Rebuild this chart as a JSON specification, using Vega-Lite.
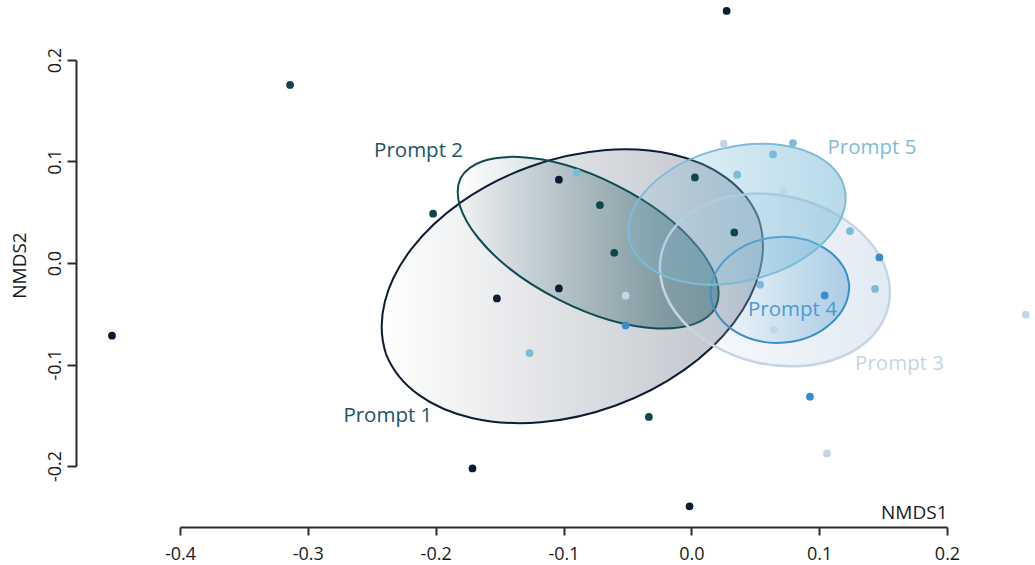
{
  "$schema": "https://vega.github.io/schema/vega-lite/v6.json",
  "width": 767,
  "height": 406,
  "autosize": {"type": "none"},
  "padding": {"left": 180, "top": 60, "right": 88, "bottom": 99},
  "background": "white",
  "config": {"view": {"stroke": null}, "font": "Open Sans"},
  "datasets": {
    "pts": [
      {"prompt": "Prompt 1", "x": -0.4532, "y": -0.0716},
      {"prompt": "Prompt 1", "x": 0.0276, "y": 0.2483},
      {"prompt": "Prompt 1", "x": -0.1712, "y": -0.2024},
      {"prompt": "Prompt 1", "x": -0.1521, "y": -0.0349},
      {"prompt": "Prompt 1", "x": -0.1036, "y": 0.0821},
      {"prompt": "Prompt 1", "x": -0.1036, "y": -0.025},
      {"prompt": "Prompt 1", "x": -0.0014, "y": -0.2398},
      {"prompt": "Prompt 2", "x": -0.3139, "y": 0.1754},
      {"prompt": "Prompt 2", "x": -0.202, "y": 0.0486},
      {"prompt": "Prompt 2", "x": -0.0715, "y": 0.0571},
      {"prompt": "Prompt 2", "x": -0.0603, "y": 0.0101},
      {"prompt": "Prompt 2", "x": 0.0028, "y": 0.0843},
      {"prompt": "Prompt 2", "x": 0.0336, "y": 0.0301},
      {"prompt": "Prompt 2", "x": -0.0332, "y": -0.1517},
      {"prompt": "Prompt 3", "x": 0.0253, "y": 0.1175},
      {"prompt": "Prompt 3", "x": 0.0722, "y": 0.0712},
      {"prompt": "Prompt 3", "x": -0.0514, "y": -0.0322},
      {"prompt": "Prompt 3", "x": 0.0644, "y": -0.066},
      {"prompt": "Prompt 3", "x": 0.1061, "y": -0.1876},
      {"prompt": "Prompt 3", "x": 0.2616, "y": -0.0509},
      {"prompt": "Prompt 3", "x": 0.1168, "y": 0.0597},
      {"prompt": "Prompt 4", "x": -0.0514, "y": -0.0615},
      {"prompt": "Prompt 4", "x": 0.1043, "y": -0.0319},
      {"prompt": "Prompt 4", "x": 0.1471, "y": 0.0055},
      {"prompt": "Prompt 4", "x": 0.0928, "y": -0.1317},
      {"prompt": "Prompt 5", "x": -0.0895, "y": 0.089},
      {"prompt": "Prompt 5", "x": 0.0359, "y": 0.087},
      {"prompt": "Prompt 5", "x": 0.0639, "y": 0.107},
      {"prompt": "Prompt 5", "x": 0.0795, "y": 0.1182},
      {"prompt": "Prompt 5", "x": 0.1241, "y": 0.0315},
      {"prompt": "Prompt 5", "x": -0.1265, "y": -0.0887},
      {"prompt": "Prompt 5", "x": 0.1437, "y": -0.0256},
      {"prompt": "Prompt 5", "x": 0.0539, "y": -0.0214}
    ],
    "centers": [
      {"prompt": "Prompt 1", "x": -0.0931, "y": -0.0229},
      {"prompt": "Prompt 2", "x": -0.0807, "y": 0.02},
      {"prompt": "Prompt 3", "x": 0.0654, "y": -0.0167},
      {"prompt": "Prompt 4", "x": 0.0693, "y": -0.0265},
      {"prompt": "Prompt 5", "x": 0.0357, "y": 0.0481}
    ],
    "labels": [
      {"prompt": "Prompt 1", "x": -0.2374, "y": -0.157},
      {"prompt": "Prompt 2", "x": -0.2134, "y": 0.1044},
      {"prompt": "Prompt 3", "x": 0.1629, "y": -0.1058},
      {"prompt": "Prompt 4", "x": 0.0791, "y": -0.0519},
      {"prompt": "Prompt 5", "x": 0.1413, "y": 0.1077}
    ]
  },
  "encoding": {
    "x": {
      "field": "x",
      "type": "quantitative",
      "scale": {"domain": [-0.4, 0.2], "nice": false, "zero": false},
      "axis": {
        "values": [-0.4, -0.3, -0.2, -0.1, 0, 0.1, 0.2],
        "labelExpr": "(datum.value < -0.00001 ? '-' : '') + format(abs(datum.value), '.1f')",
        "offset": 61,
        "grid": false,
        "domainColor": "#2b2b2b",
        "domainWidth": 2,
        "tickColor": "#2b2b2b",
        "tickWidth": 2,
        "tickSize": 8,
        "labelFont": "Open Sans",
        "labelFontSize": 18,
        "labelColor": "#1a1a1a",
        "labelPadding": 10,
        "labelBaseline": "top",
        "labelFlush": false,
        "labelOverlap": false,
        "title": "NMDS1",
        "titleFont": "Open Sans",
        "titleFontSize": 19,
        "titleFontWeight": "normal",
        "titleColor": "#1a1a1a",
        "titleX": 767,
        "titleY": -9,
        "titleAlign": "right",
        "titleBaseline": "alphabetic"
      }
    },
    "y": {
      "field": "y",
      "type": "quantitative",
      "scale": {"domain": [-0.2, 0.2], "nice": false, "zero": false},
      "axis": {
        "values": [-0.2, -0.1, 0, 0.1, 0.2],
        "labelExpr": "(datum.value < -0.00001 ? '-' : '') + format(abs(datum.value), '.1f')",
        "offset": 104,
        "grid": false,
        "domainColor": "#2b2b2b",
        "domainWidth": 2,
        "tickColor": "#2b2b2b",
        "tickWidth": 2,
        "tickSize": 9,
        "labelFont": "Open Sans",
        "labelFontSize": 18,
        "labelColor": "#1a1a1a",
        "labelAngle": 270,
        "labelAlign": "center",
        "labelBaseline": "alphabetic",
        "labelPadding": 7,
        "labelFlush": false,
        "labelOverlap": false,
        "title": "NMDS2",
        "titleFont": "Open Sans",
        "titleFontSize": 19,
        "titleFontWeight": "normal",
        "titleColor": "#1a1a1a",
        "titleAngle": 270,
        "titleX": -51,
        "titleY": 205,
        "titleAlign": "center",
        "titleBaseline": "alphabetic"
      }
    }
  },
  "layer": [
    {
      "data": {"name": "centers"},
      "transform": [{"filter": "datum.prompt === 'Prompt 1'"}],
      "mark": {
        "type": "point",
        "shape": "M -186.3 67.8 A 198.3 129.7 -20 0 1 186.3 -67.8 A 198.3 129.7 -20 0 1 -186.3 67.8 Z",
        "size": 4,
        "filled": true,
        "opacity": 1,
        "fill": {"gradient": "linear", "x1": 0, "y1": 0, "x2": 1, "y2": 0, "stops": [{"offset": 0, "color": "rgba(11,28,54,0.0)"}, {"offset": 1, "color": "rgba(11,28,54,0.28)"}]},
        "stroke": "#0b1c36",
        "strokeWidth": 2
      }
    },
    {
      "data": {"name": "centers"},
      "transform": [{"filter": "datum.prompt === 'Prompt 2'"}],
      "mark": {
        "type": "point",
        "shape": "M -127.6 -64.5 A 143 65.3 26.8 0 1 127.6 64.5 A 143 65.3 26.8 0 1 -127.6 -64.5 Z",
        "size": 4,
        "filled": true,
        "opacity": 1,
        "fill": {"gradient": "linear", "x1": 0, "y1": 0, "x2": 1, "y2": 0, "stops": [{"offset": 0, "color": "rgba(14,74,82,0.0)"}, {"offset": 1, "color": "rgba(14,74,82,0.5)"}]},
        "stroke": "#0f4a52",
        "strokeWidth": 2
      }
    },
    {
      "data": {"name": "centers"},
      "transform": [{"filter": "datum.prompt === 'Prompt 3'"}],
      "mark": {
        "type": "point",
        "shape": "M -113.4 -26.4 A 116.4 84.4 13.1 0 1 113.4 26.4 A 116.4 84.4 13.1 0 1 -113.4 -26.4 Z",
        "size": 4,
        "filled": true,
        "opacity": 1,
        "fill": {"gradient": "linear", "x1": 0, "y1": 0, "x2": 1, "y2": 0, "stops": [{"offset": 0, "color": "rgba(197,213,230,0.05)"}, {"offset": 1, "color": "rgba(197,213,230,0.5)"}]},
        "stroke": "#c5d5e6",
        "strokeWidth": 2.5
      }
    },
    {
      "data": {"name": "centers"},
      "transform": [{"filter": "datum.prompt === 'Prompt 4'"}],
      "mark": {
        "type": "point",
        "shape": "M -69.2 6.1 A 69.5 54.5 -5 0 1 69.2 -6.1 A 69.5 54.5 -5 0 1 -69.2 6.1 Z",
        "size": 4,
        "filled": true,
        "opacity": 1,
        "fill": {"gradient": "linear", "x1": 0, "y1": 0, "x2": 1, "y2": 0, "stops": [{"offset": 0, "color": "rgba(58,143,200,0.0)"}, {"offset": 1, "color": "rgba(58,143,200,0.35)"}]},
        "stroke": "#3a8fc8",
        "strokeWidth": 2
      }
    },
    {
      "data": {"name": "centers"},
      "transform": [{"filter": "datum.prompt === 'Prompt 5'"}],
      "mark": {
        "type": "point",
        "shape": "M -107.5 26 A 110.6 67.4 -13.6 0 1 107.5 -26 A 110.6 67.4 -13.6 0 1 -107.5 26 Z",
        "size": 4,
        "filled": true,
        "opacity": 1,
        "fill": {"gradient": "linear", "x1": 0, "y1": 0, "x2": 1, "y2": 0, "stops": [{"offset": 0, "color": "rgba(123,188,216,0.15)"}, {"offset": 1, "color": "rgba(123,188,216,0.55)"}]},
        "stroke": "#7bbcd8",
        "strokeWidth": 2
      }
    },
    {
      "data": {"name": "pts"},
      "mark": {"type": "point", "shape": "circle", "filled": true, "size": 60, "opacity": 1},
      "encoding": {
        "color": {
          "field": "prompt",
          "type": "nominal",
          "scale": {"domain": ["Prompt 1", "Prompt 2", "Prompt 3", "Prompt 4", "Prompt 5"], "range": ["#0b1c36", "#0e4750", "#c6d5e6", "#3a8ec8", "#7bbbd7"]},
          "legend": null
        }
      }
    },
    {
      "data": {"name": "labels"},
      "mark": {"type": "text", "font": "Open Sans", "fontSize": 20.5, "align": "center", "baseline": "alphabetic"},
      "encoding": {
        "text": {"field": "prompt", "type": "nominal"},
        "color": {
          "field": "prompt",
          "type": "nominal",
          "scale": {"domain": ["Prompt 1", "Prompt 2", "Prompt 3", "Prompt 4", "Prompt 5"], "range": ["#1d5560", "#1d5560", "#c5d5e6", "#4a9bd0", "#7fbcd8"]},
          "legend": null
        }
      }
    }
  ],
  "resolve": {"scale": {"color": "independent"}}
}
